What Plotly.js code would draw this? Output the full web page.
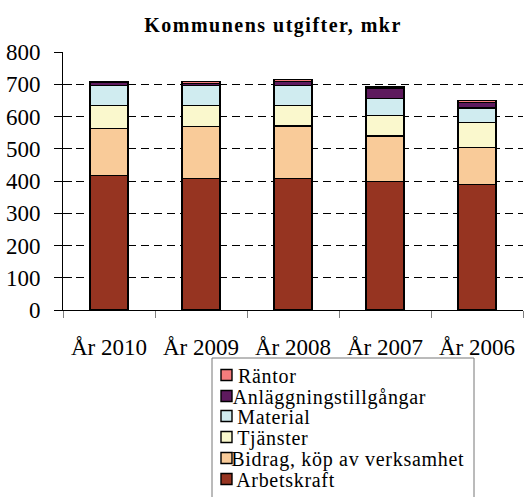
<!DOCTYPE html>
<html><head><meta charset="utf-8">
<script src="https://cdn.plot.ly/plotly-3.0.1.min.js"></script>
<style>
body{margin:0;background:#fff}
#c{width:525px;height:497px}
#c .gtitle{letter-spacing:1.5px}
#c .annotation-text{letter-spacing:0.7px}
</style>
</head><body><div id="c"></div>
<script>
const categories = ["År 2010","År 2009","År 2008","År 2007","År 2006"];
const arbetskraft = [417, 407, 408, 399, 389];
const bidrag = [146, 162, 162, 141, 115];
const tjanster = [71, 65, 65, 64, 77];
const material = [63, 62, 62, 51, 45];
const anlaggning = [8, 6, 12, 31, 18];
const rantor = [4, 6, 6, 6, 6];
const seriesNames = ["Arbetskraft","Bidrag, köp av verksamhet","Tjänster","Material","Anläggningstillgångar","Räntor"];
const seriesColors = ["#963421","#F9CB99","#FAF8CD","#D0ECF0","#5E1A5E","#F47C7C"];
const seriesData = [arbetskraft,bidrag,tjanster,material,anlaggning,rantor];

const W = 525, H = 497, ML = 63, MR = 2, MT = 52, MB = 187;
const PW = W - ML - MR, PH = H - MT - MB;
const px = v => (v - ML) / PW;          // pixel x -> paper x
const py = v => (H - MB - v) / PH;      // pixel y -> paper y
const fam = 'Liberation Serif, Times New Roman, serif';

const traces = seriesData.map((d,i)=>({
  type:'bar', x:categories, y:d, name:seriesNames[i],
  marker:{color:seriesColors[i], line:{color:'#000', width:1.4}}, width:0.41
}));
// invisible helper trace to give crossing y ticks
traces.push({type:'scatter', x:[categories[0]], y:[0], yaxis:'y2', mode:'markers', marker:{opacity:0}, hoverinfo:'skip', showlegend:false});

// manual legend (reversed order, top = last series)
const shapes = [{type:'rect', xref:'paper', yref:'paper', x0:px(212), x1:px(474), y0:py(502), y1:py(358), line:{color:'#777', width:1}, fillcolor:'#fff', layer:'above'}];
const annotations = [];
const rowY = [375, 396, 416, 437, 458, 479];
for (let k = 0; k < seriesNames.length; k++) {
  const i = seriesNames.length - 1 - k;
  const yc = rowY[k];
  shapes.push({type:'rect', xref:'paper', yref:'paper', x0:px(221), x1:px(232), y0:py(yc+5.5), y1:py(yc-5.5), fillcolor:seriesColors[i], line:{color:'#000', width:1.4}, layer:'above'});
  annotations.push({xref:'paper', yref:'paper', x:px(238), y:py(yc+1), xanchor:'left', yanchor:'middle', text:seriesNames[i], showarrow:false, font:{family:fam, size:20, color:'#000'}});
}

Plotly.newPlot('c', traces, {
  width:W, height:H, barmode:'stack',
  paper_bgcolor:'#fff', plot_bgcolor:'#fff',
  margin:{l:ML, r:MR, t:MT, b:MB},
  font:{family:fam, color:'#000'},
  showlegend:false,
  title:{text:'<b>Kommunens utgifter, mkr</b>', font:{family:fam, size:20, color:'#000'}, x:0.52, xanchor:'center', y:1-25/H, yanchor:'middle'},
  xaxis:{showline:true, linecolor:'#000', linewidth:1, ticks:'outside', tickson:'boundaries', ticklen:7, tickcolor:'#808080', tickfont:{size:23, family:fam}, showgrid:false, automargin:false, ticklabelstandoff:16},
  yaxis:{range:[0,800], dtick:100, showline:true, linecolor:'#000', linewidth:1, ticks:'outside', ticklen:8, tickcolor:'#000', tickfont:{size:23, family:fam}, showgrid:true, gridcolor:'#000', griddash:'8px,5px', gridwidth:1, zeroline:false, ticklabelstandoff:9, automargin:false},
  yaxis2:{overlaying:'y', range:[0,800], dtick:100, ticks:'inside', ticklen:9, tickcolor:'#000', showticklabels:false, showgrid:false, zeroline:false, showline:false, side:'left'},
  shapes:shapes, annotations:annotations
}, {displayModeBar:false, staticPlot:true});
</script></body></html>
